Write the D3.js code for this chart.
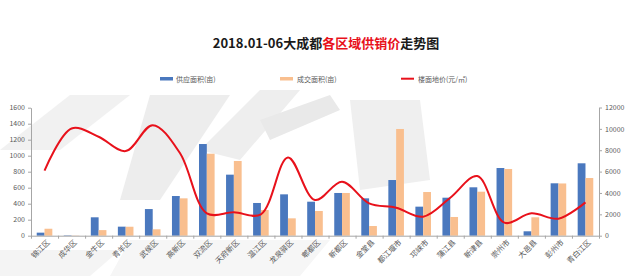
<!DOCTYPE html>
<html>
<head>
<meta charset="utf-8">
<script src="https://cdn.jsdelivr.net/npm/d3@7/dist/d3.min.js"></script>
<style>
  body { margin: 0; background: #fff; }
  svg { display: block; font-family: "Noto Sans CJK SC", "Noto Sans", sans-serif; }
</style>
</head>
<body>
<svg id="chart" width="640" height="276"></svg>
<script>
//chart data
const districts = ["锦江区", "成华区", "金牛区", "青羊区", "武侯区", "高新区", "双流区", "天府新区", "温江区", "龙泉驿区", "郫都区",
  "新都区", "金堂县", "都江堰市", "邛崃市", "蒲江县", "新津县", "崇州市", "大邑县", "彭州市", "青白江区"];
const supply = [38, 5, 230, 113, 333, 496, 1146, 763, 409, 517, 425, 534, 467, 696, 363, 475, 605, 846, 55, 655, 905];
const sold = [87, 3, 70, 112, 80, 467, 1025, 934, 321, 217, 309, 534, 121, 1334, 546, 234, 550, 834, 230, 653, 721];
const price = [6100, 10040, 9260, 7920, 10350, 7760, 2090, 2190, 2000, 7330, 3340, 5050, 3030, 2620, 1780, 3550, 5580, 1220, 2090, 1590, 3120];
const leftTicks = [0, 200, 400, 600, 800, 1000, 1200, 1400, 1600];
const rightTicks = [0, 2000, 4000, 6000, 8000, 10000, 12000];
const legendNames = ["供应面积(亩)", "成交面积(亩)", "楼面地价(元/㎡)"];

const blue = "#4a78be";
const orange = "#f9bf8f";
const red = "#e8111b";
const grey = "#595959";

const svg = d3.select("#chart");

//faint background shapes (logo watermark)
const wm = svg.append("g").attr("fill", "#f1f1f1");
wm.append("path").attr("d", "M0,150 L70,95 L130,95 L60,150 Z");
wm.append("path").attr("d", "M150,95 L230,95 L160,200 L120,200 Z").attr("fill", "#ededed");
wm.append("path").attr("d", "M200,150 L260,90 L300,90 L240,160 Z").attr("fill", "#eeeeee");
wm.append("path").attr("d", "M260,120 L330,95 L340,110 L270,140 Z").attr("fill", "#e9e9e9");
wm.append("path").attr("d", "M350,100 L420,100 L430,180 L360,190 Z").attr("fill", "#efefef");
wm.append("path").attr("d", "M0,250 L120,250 L90,276 L0,276 Z").attr("fill", "#f4f4f4");
wm.append("path").attr("d", "M130,240 L330,240 L300,276 L110,276 Z").attr("fill", "#f6f6f6");

//title
const title = svg.append("text")
  .attr("x", 326).attr("y", 48)
  .attr("text-anchor", "middle")
  .attr("font-size", 13).attr("font-weight", "bold");
title.append("tspan").attr("fill", "#1a1a1a").text("2018.01-06大成都");
title.append("tspan").attr("fill", red).text("各区域供销价");
title.append("tspan").attr("fill", "#1a1a1a").text("走势图");

//legend
const legend = svg.append("g").attr("font-size", 7).attr("fill", grey);
legend.append("rect").attr("x", 160).attr("y", 77).attr("width", 13).attr("height", 3.5).attr("fill", blue);
legend.append("text").attr("x", 176).attr("y", 81.5).text(legendNames[0]);
legend.append("rect").attr("x", 280).attr("y", 77).attr("width", 13).attr("height", 3.5).attr("fill", orange);
legend.append("text").attr("x", 297).attr("y", 81.5).text(legendNames[1]);
legend.append("line").attr("x1", 401).attr("x2", 414).attr("y1", 78.7).attr("y2", 78.7)
  .attr("stroke", red).attr("stroke-width", 2);
legend.append("text").attr("x", 418).attr("y", 81.5).text(legendNames[2]);

//scales
const x = d3.scaleBand().domain(districts).range([31, 599]).padding(0);
const yL = d3.scaleLinear().domain([0, 1600]).range([235.7, 107.7]);
const yR = d3.scaleLinear().domain([0, 12000]).range([235.7, 107.5]);
const xEdge = d3.scaleLinear().domain([0, districts.length]).range([31, 599]);

//bars
const barW = 7.8;
svg.append("g").selectAll("rect").data(supply).join("rect")
  .attr("x", (d, i) => x(districts[i]) + x.bandwidth() / 2 - barW)
  .attr("y", d => yL(d))
  .attr("width", barW)
  .attr("height", d => yL(0) - yL(d))
  .attr("fill", blue);
svg.append("g").selectAll("rect").data(sold).join("rect")
  .attr("x", (d, i) => x(districts[i]) + x.bandwidth() / 2)
  .attr("y", d => yL(d))
  .attr("width", barW)
  .attr("height", d => yL(0) - yL(d))
  .attr("fill", orange);

//price line
svg.append("path")
  .datum(price)
  .attr("fill", "none")
  .attr("stroke", red)
  .attr("stroke-width", 2)
  .attr("d", d3.line()
    .x((d, i) => x(districts[i]) + x.bandwidth() / 2)
    .y(d => yR(d))
    .curve(d3.curveCatmullRom.alpha(0.5)));

//axes
const styleAxis = function(g) {
  g.selectAll("path, line").attr("stroke", "#a6a6a6");
  g.selectAll("text").attr("fill", grey).attr("font-size", 7)
    .attr("font-family", "\"Noto Sans CJK SC\", \"Noto Sans\", sans-serif");
};

svg.append("g")
  .attr("transform", "translate(31,0)")
  .call(d3.axisLeft(yL).tickValues(leftTicks).tickFormat(d3.format("d")).tickSize(3).tickPadding(3).tickSizeOuter(0))
  .call(styleAxis);

svg.append("g")
  .attr("transform", "translate(599,0)")
  .call(d3.axisRight(yR).tickValues(rightTicks).tickFormat(d3.format("d")).tickSize(3).tickPadding(3).tickSizeOuter(0))
  .call(styleAxis);

svg.append("g")
  .attr("transform", "translate(0,235.7)")
  .call(d3.axisBottom(xEdge).tickValues(d3.range(districts.length + 1)).tickFormat("").tickSize(3).tickSizeOuter(0))
  .call(styleAxis);

//rotated category labels
svg.append("g").selectAll("text").data(districts).join("text")
  .attr("transform", d => `translate(${x(d) + x.bandwidth() / 2 + 4},${241}) rotate(-45)`)
  .attr("text-anchor", "end")
  .attr("font-size", 7.5)
  .attr("fill", grey)
  .attr("dy", "0.35em")
  .text(d => d);
</script>
</body>
</html>
